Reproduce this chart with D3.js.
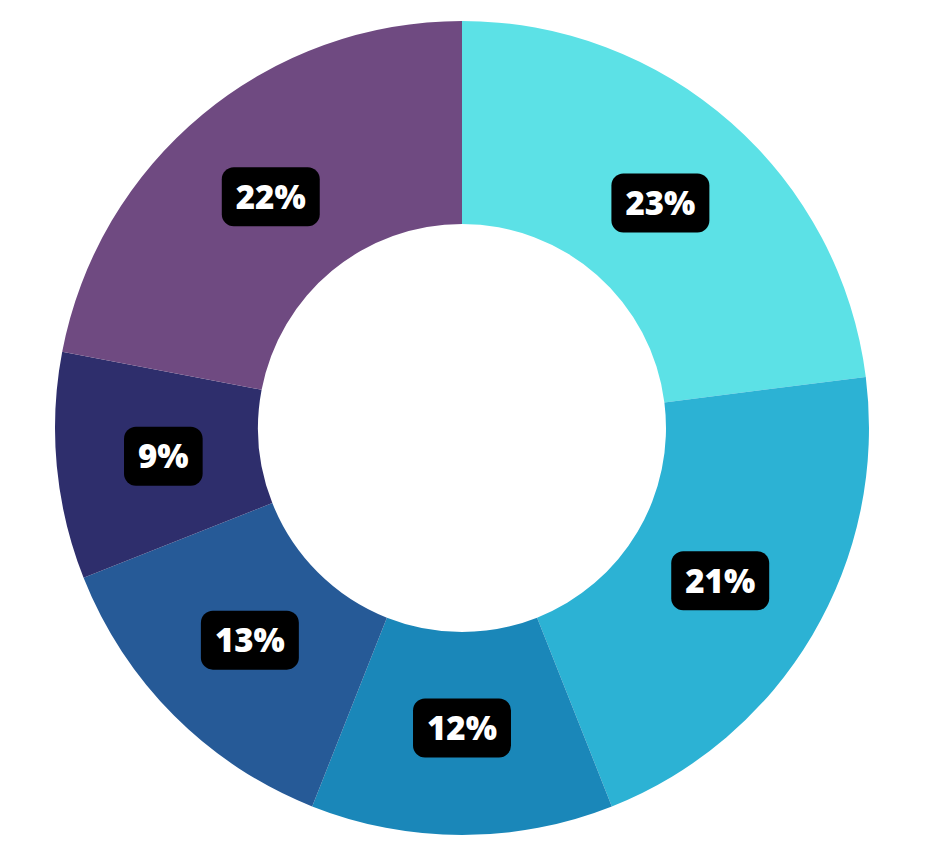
<!DOCTYPE html>
<html lang="en">

<head>
  <meta charset="UTF-8">
  <title>Donut Chart</title>
  <script src="https://d3js.org/d3.v7.min.js"></script>
  <style>
    body {
      margin: 0;
      background: #fff;
    }

    .label text {
      font-family: "Open Sans", sans-serif;
      font-weight: 800;
      font-size: 33px;
      fill: #fff;
    }
  </style>
</head>

<body>
  <div id="chart"></div>

  <script>
    const categories = ["A", "B", "C", "D", "E", "F"];
    const values = [23, 21, 12, 13, 9, 22];
    const labels = ["23%", "21%", "12%", "13%", "9%", "22%"];
    const colors = ["#5ce1e6", "#2cb2d4", "#1a87b9", "#265a97", "#2e2e6c", "#6f4a81"];

    const width = 926;
    const height = 843;
    const outerRadius = 407;
    const innerRadius = 204;

    const data = categories.map((c, i) => ({ category: c, value: values[i], label: labels[i] }));

    const svg = d3.select("#chart").append("svg")
      .attr("width", width)
      .attr("height", height)
      .append("g")
      .attr("transform", `translate(462,428)`);

    const color = d3.scaleOrdinal()
      .domain(categories)
      .range(colors);

    const pie = d3.pie()
      .sort(null)
      .value(d => d.value);

    const arc = d3.arc()
      .innerRadius(innerRadius)
      .outerRadius(outerRadius);

    const labelArc = d3.arc()
      .innerRadius(300)
      .outerRadius(300);

    const arcs = pie(data);

    svg.selectAll(".slice")
      .data(arcs)
      .enter().append("path")
      .attr("class", "slice")
      .attr("d", arc)
      .attr("fill", d => color(d.data.category));

    const label = svg.selectAll(".label")
      .data(arcs)
      .enter().append("g")
      .attr("class", "label")
      .attr("transform", d => `translate(${labelArc.centroid(d)})`);

    label.append("rect")
      .attr("fill", "#000")
      .attr("rx", 12)
      .attr("ry", 12);

    label.append("text")
      .attr("text-anchor", "middle")
      .attr("dy", "0.36em")
      .text(d => d.data.label);

    // size each box round its text
    label.each(function () {
      const g = d3.select(this);
      const box = g.select("text").node().getBBox();
      g.select("rect")
        .attr("x", -box.width / 2 - 14)
        .attr("y", -29.5)
        .attr("width", box.width + 28)
        .attr("height", 59);
    });
  </script>
</body>

</html>
